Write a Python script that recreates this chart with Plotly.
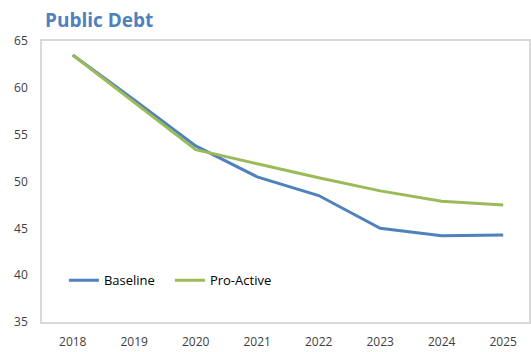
import plotly.graph_objects as go

years = ["2018", "2019", "2020", "2021", "2022", "2023", "2024", "2025"]
baseline = [63.5, 58.7, 53.8, 50.5, 48.5, 45.0, 44.2, 44.3]
pro_active = [63.5, 58.5, 53.4, 51.9, 50.4, 49.0, 47.9, 47.5]

BLUE = "#4F81BD"
GREEN = "#9BBB59"
TEXT = "#404040"
FONT = "Open Sans"

fig = go.Figure()
fig.add_trace(go.Scatter(x=years, y=baseline, name="Baseline", mode="lines",
                         line=dict(color=BLUE, width=3)))
fig.add_trace(go.Scatter(x=years, y=pro_active, name="Pro-Active", mode="lines",
                         line=dict(color=GREEN, width=3)))

fig.update_layout(
    width=531, height=352,
    margin=dict(l=42, r=0, t=41, b=30),
    paper_bgcolor="white", plot_bgcolor="white",
    font=dict(family=FONT, size=12, color=TEXT),
    title=dict(text="<b>Public Debt</b>", x=0, xref="paper", xanchor="left",
               y=1 - 20 / 352, yref="container", yanchor="middle", pad=dict(l=3),
               font=dict(family=FONT, size=19, color=BLUE)),
    legend=dict(orientation="h", x=0.045, y=0.148, xanchor="left", yanchor="middle",
                bgcolor="rgba(0,0,0,0)", font=dict(size=13, color="#000000"),
                itemwidth=30, entrywidth=61, tracegroupgap=0),
    showlegend=True,
)
fig.update_xaxes(type="category", range=[-0.5, 7.42], showgrid=False,
                 showline=True, linecolor="#D9D9D9", linewidth=1.5, mirror=True,
                 ticks="outside", ticklen=8, tickcolor="rgba(0,0,0,0)",
                 tickfont=dict(size=12, color=TEXT))
fig.update_yaxes(range=[35, 65], dtick=5, showgrid=False, zeroline=False,
                 showline=True, linecolor="#D9D9D9", linewidth=1.5, mirror=True,
                 ticks="outside", ticklen=10, tickcolor="rgba(0,0,0,0)",
                 tickfont=dict(size=12, color=TEXT))

fig.write_html("out.html")
